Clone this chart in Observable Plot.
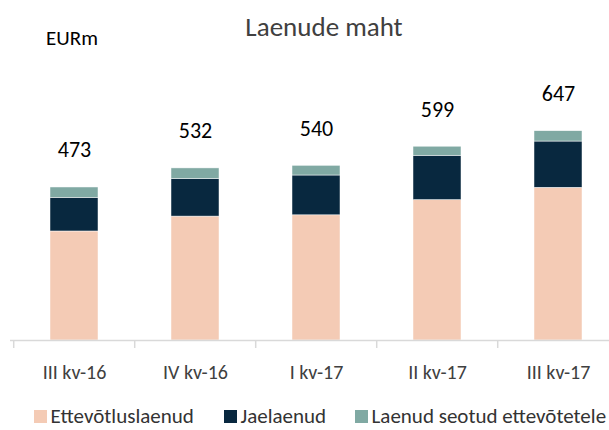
<!DOCTYPE html>
<html>
<head>
<meta charset="utf-8">
<script src="https://cdn.jsdelivr.net/npm/d3@7"></script>
<script src="https://cdn.jsdelivr.net/npm/@observablehq/plot@0.6"></script>
<style>
  html, body { margin: 0; padding: 0; background: #fff; }
  #wrap { position: relative; width: 609px; height: 430px; overflow: hidden; font-family: Carlito, Calibri, Lato, sans-serif; }
  #title { position: absolute; left: 324px; top: 13px; transform: translateX(-50%); font-size: 27px; color: #404040; white-space: nowrap; line-height: 1; }
  #unit { position: absolute; left: 46px; top: 28px; font-size: 21px; color: #000; line-height: 1; }
  #legend { position: absolute; left: 0; top: 406px; width: 609px; height: 21px; font-size: 21px; color: #333; line-height: 1; white-space: nowrap; }
  #legend .item { position: absolute; top: 0; display: flex; align-items: center; gap: 4px; }
  #legend .sw { width: 12.5px; height: 12.5px; display: inline-block; }
  #chart { position: absolute; left: 0; top: 0; }
</style>
</head>
<body>
<div id="wrap">
  <div id="chart"></div>
  <div id="title"></div>
  <div id="unit"></div>
  <div id="legend"></div>
</div>
<script>
const quarters = ["III kv-16", "IV kv-16", "I kv-17", "II kv-17", "III kv-17"];
const series = ["Ettevõtluslaenud", "Jaelaenud", "Laenud seotud ettevõtetele"];
const colors = ["#F4CBB5", "#08283F", "#80A9A3"];
const ettevotlus = [337, 383, 387, 434, 472];
const jae = [104, 116, 123, 137, 143];
const seotud = [32, 33, 30, 28, 32];
const totals = [473, 532, 540, 599, 647];
const titleText = "Laenude maht";
const unitText = "EURm";
const legendLeft = [34, 224, 355];

const values = [ettevotlus, jae, seotud];
const data = [];
series.forEach((s, si) => quarters.forEach((q, qi) => data.push({q, s, v: values[si][qi]})));
const totalData = quarters.map((q, i) => ({q, t: totals[i]}));

const chart = Plot.plot({
  width: 609,
  height: 430,
  marginLeft: 10,
  marginRight: 0,
  marginTop: 0,
  marginBottom: 90,
  style: {fontFamily: "Carlito, Calibri, Lato, sans-serif", background: "transparent"},
  x: {domain: quarters, range: [11.7, 619.8], paddingInner: 0.6, paddingOuter: 0.3, axis: null},
  y: {domain: [0, 700], range: [340, 113.55], axis: null},
  color: {domain: series, range: colors},
  marks: [
    Plot.barY(data, {x: "q", y: "v", fill: "s", order: series, stroke: "#fff", strokeWidth: 0.6, strokeOpacity: 0.8}),
    Plot.ruleY([0], {stroke: "#d9d9d9", strokeWidth: 1.5}),
    Plot.axisX({tickSize: 8, tickFormat: () => "", label: null, dx: -60.8, stroke: "#d9d9d9", strokeWidth: 1.5}),
    Plot.axisX({tickSize: 0, tickPadding: 24, label: null, fontSize: 20, fill: "#404040"}),
    Plot.text(totalData, {x: "q", y: "t", text: d => String(d.t), dy: -30, lineAnchor: "bottom", fontSize: 22, fill: "#000"})
  ]
});
document.getElementById("chart").appendChild(chart);
document.getElementById("title").textContent = titleText;
document.getElementById("unit").textContent = unitText;
const lg = document.getElementById("legend");
series.forEach((s, i) => {
  const it = document.createElement("span");
  it.className = "item";
  it.style.left = legendLeft[i] + "px";
  const sw = document.createElement("span");
  sw.className = "sw";
  sw.style.background = colors[i];
  const tx = document.createElement("span");
  tx.textContent = s;
  it.appendChild(sw); it.appendChild(tx);
  lg.appendChild(it);
});
</script>
</body>
</html>
